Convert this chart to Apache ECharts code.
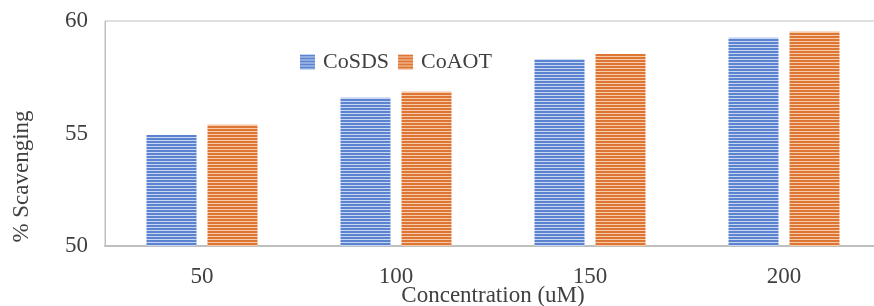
<!DOCTYPE html>
<html>
<head>
<meta charset="utf-8">
<script src="https://cdn.jsdelivr.net/npm/echarts@6/dist/echarts.min.js"></script>
<style>
  html, body { margin: 0; padding: 0; background: #fff; }
  #chart { width: 874px; height: 306px; }
</style>
</head>
<body>
<div id="chart"></div>
<script>
const categories = ["50", "100", "150", "200"];
const coSDS = [54.93, 56.59, 58.31, 59.26];
const coAOT = [55.39, 56.86, 58.53, 59.52];

// horizontal stripe fill like the Excel pattern
function stripes(dark, light) {
  const c = document.createElement("canvas");
  c.width = 4;
  c.height = 3;
  const ctx = c.getContext("2d");
  ctx.fillStyle = dark;
  ctx.fillRect(0, 0, 4, 2);
  ctx.fillStyle = light;
  ctx.fillRect(0, 2, 4, 1);
  return { image: c, repeat: "repeat" };
}

const font = "Liberation Serif";
const textColor = "#404040";

const myChart = echarts.init(document.getElementById("chart"));
const options = {
  animation: false,
  textStyle: { fontFamily: font },
  legend: {
    left: 295,
    top: 46,
    icon: "rect",
    itemWidth: 15,
    itemHeight: 15,
    itemGap: 9,
    textStyle: { fontFamily: font, fontSize: 22, color: textColor, padding: [0, 0, 0, 3] },
    data: ["CoSDS", "CoAOT"],
  },
  grid: {
    left: 105,
    right: -7,
    top: 21,
    bottom: 60,
    containLabel: false,
    outerBoundsMode: "none",
    show: true,
    borderColor: "#bfbfbf",
    borderWidth: 1,
  },
  xAxis: {
    type: "category",
    data: categories,
    name: "Concentration (uM)",
    nameLocation: "middle",
    nameGap: 38,
    nameMoveOverlap: false,
    nameTextStyle: { fontFamily: font, fontSize: 23, color: textColor },
    axisLine: { lineStyle: { color: "#bfbfbf", width: 2 } },
    axisTick: { show: false },
    axisLabel: { fontFamily: font, fontSize: 23, color: textColor, margin: 19 },
  },
  yAxis: {
    type: "value",
    min: 50,
    max: 60,
    interval: 5,
    name: "% Scavenging",
    nameLocation: "middle",
    nameGap: 72,
    // title sits lower than the axis middle in the original
    nameTextStyle: { fontFamily: font, fontSize: 23, color: textColor, padding: [0, 86, 0, 0] },
    axisLine: { show: true, lineStyle: { color: "#bfbfbf", width: 1 } },
    axisTick: { show: false },
    splitLine: { show: false },
    axisLabel: { fontFamily: font, fontSize: 23, color: textColor, margin: 17 },
  },
  series: [
    {
      name: "CoSDS",
      type: "bar",
      data: coSDS,
      barWidth: 50,
      barGap: "22%",
      itemStyle: { color: stripes("#5b83d0", "#c8d6f2") },
    },
    {
      name: "CoAOT",
      type: "bar",
      data: coAOT,
      barWidth: 50,
      itemStyle: { color: stripes("#dd7635", "#f7caa9") },
    },
  ],
};
myChart.setOption(options);
</script>
</body>
</html>
